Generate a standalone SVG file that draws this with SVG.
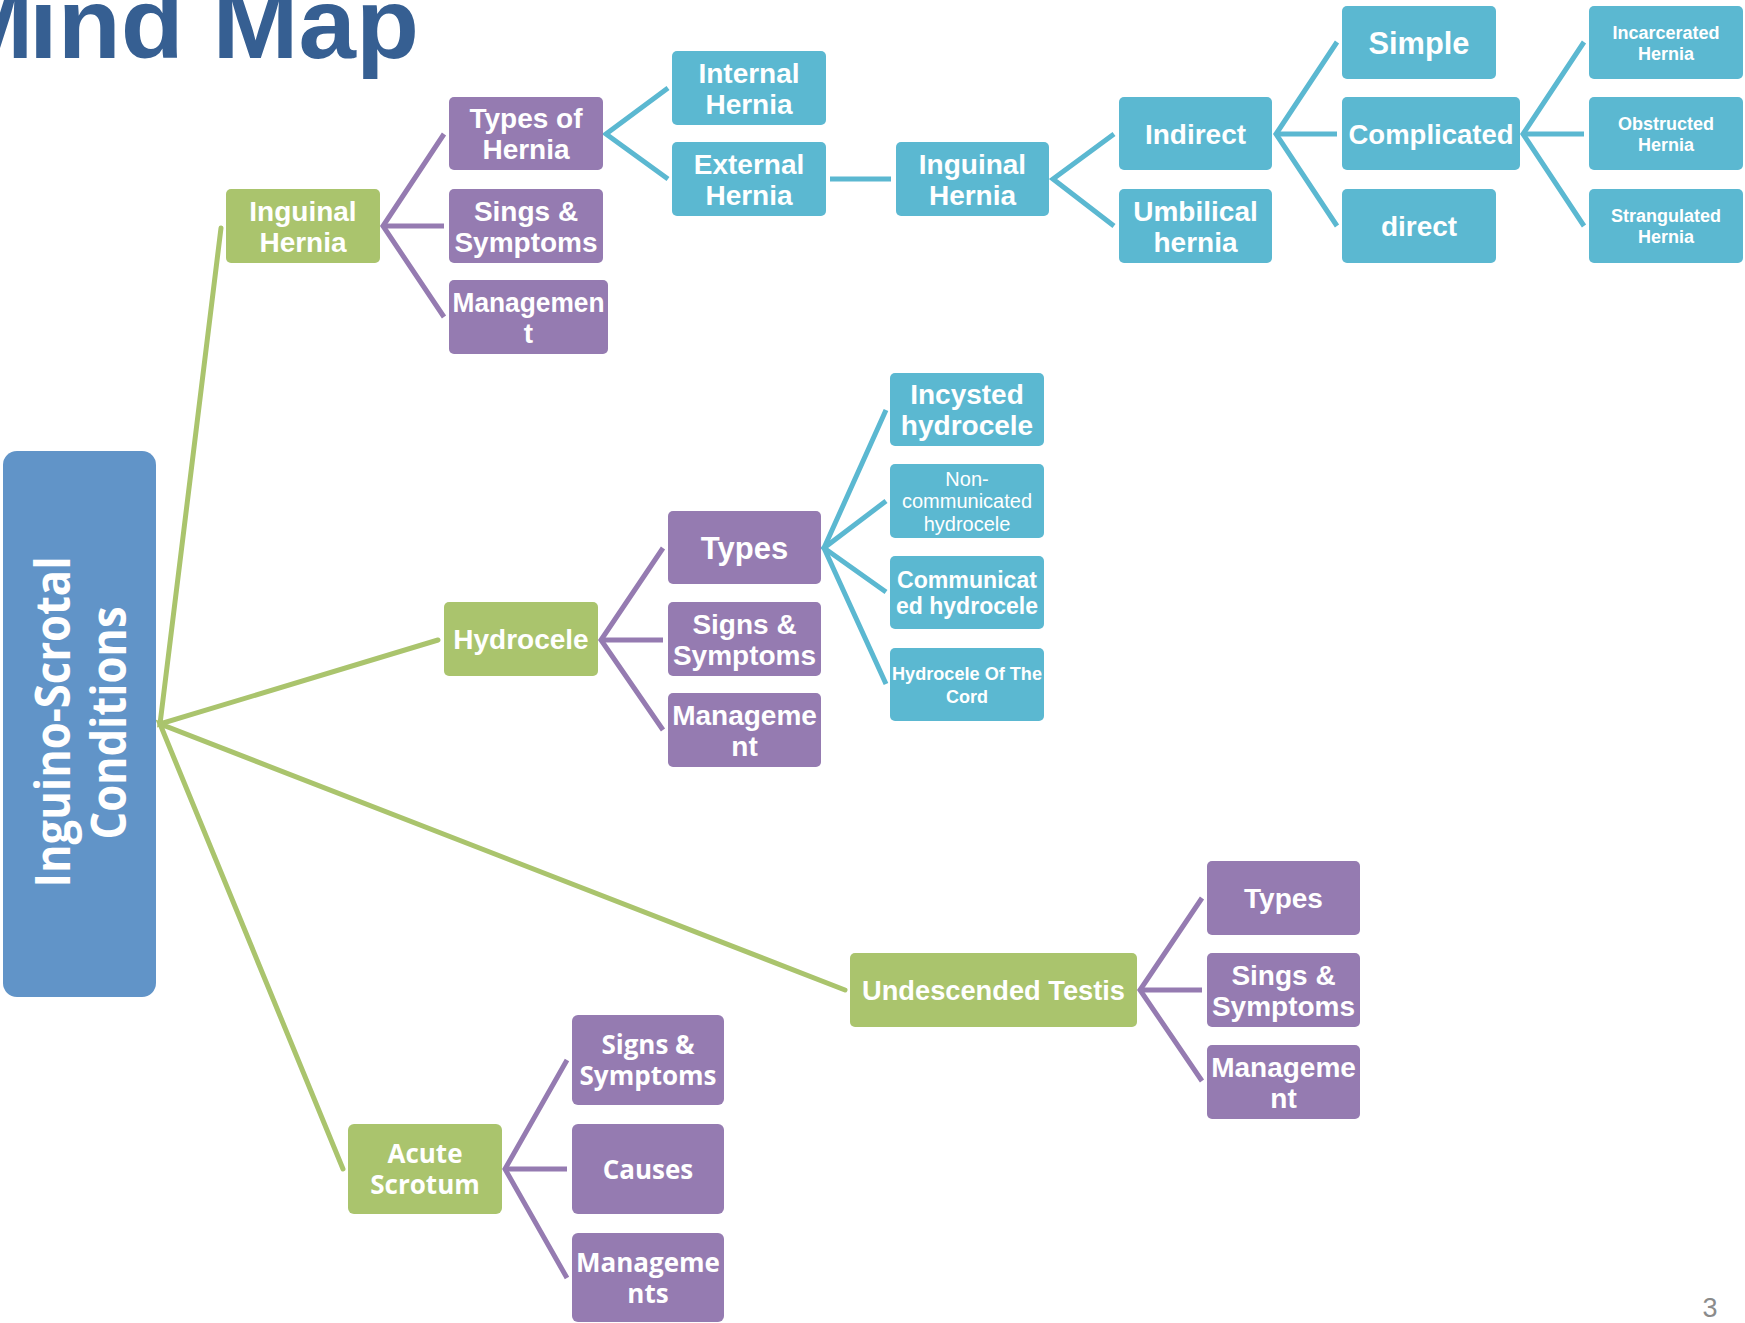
<svg xmlns="http://www.w3.org/2000/svg" width="1745" height="1323" viewBox="0 0 1745 1323">
<style>
.bg{fill:#ffffff}
.root{fill:#6194C8}
.g{fill:#AAC46D}
.p{fill:#957BB1}
.b{fill:#5BB8D1}
.t{font-family:"Liberation Sans",Arial,sans-serif;font-weight:bold;fill:#ffffff;text-anchor:middle}
.o{font-family:"Open Sans","Liberation Sans",sans-serif;font-weight:bold;fill:#ffffff;text-anchor:middle}
.f28{font-size:28px}
.f32{font-size:31px}
.f23{font-size:23px}
.f20{font-size:20px;font-weight:normal}
.f18{font-size:18px}
.f26{font-size:26px}
.lg{stroke:#AAC46D;stroke-width:5;fill:none;stroke-linecap:round}
.lp{stroke:#957BB1;stroke-width:5;fill:none}
.lb{stroke:#5BB8D1;stroke-width:5;fill:none}
</style>
<rect class="bg" x="0" y="0" width="1745" height="1323"/>
<text id="title" y="58" style="font-family:'Liberation Sans',Arial,sans-serif;font-weight:bold;font-size:100px;fill:#365F92"><tspan x="-50">M</tspan><tspan x="29" textLength="390" lengthAdjust="spacingAndGlyphs">ind Map</tspan></text>
<text id="page" x="1710" y="1317" style="font-family:'Liberation Sans',Arial,sans-serif;font-size:27px;fill:#8B8B8B;text-anchor:middle">3</text>

<g id="connectors">
  <polyline class="lg" points="221,228 160,724 438,640"/>
  <polyline class="lg" points="845,990 160,724 343,1169"/>
  <polyline class="lp" points="444,134 383,226 444,317"/>
  <line class="lp" x1="383" y1="226" x2="444" y2="226"/>
  <polyline class="lb" points="668,88 606,134 668,179"/>
  <line class="lb" x1="830" y1="179" x2="891" y2="179"/>
  <polyline class="lb" points="1114,134 1053,179 1114,226"/>
  <polyline class="lb" points="1337,42 1276,134 1337,226"/>
  <line class="lb" x1="1276" y1="134" x2="1337" y2="134"/>
  <polyline class="lb" points="1584,42 1523,134 1584,226"/>
  <line class="lb" x1="1523" y1="134" x2="1584" y2="134"/>
  <polyline class="lp" points="663,548 601,640 663,730"/>
  <line class="lp" x1="601" y1="640" x2="663" y2="640"/>
  <polyline class="lb" points="886,410 824,548 886,684"/>
  <polyline class="lb" points="886,501 824,548 886,592"/>
  <polyline class="lp" points="1202,898 1140,990 1202,1081"/>
  <line class="lp" x1="1140" y1="990" x2="1202" y2="990"/>
  <polyline class="lp" points="567,1060 505,1169 567,1278"/>
  <line class="lp" x1="505" y1="1169" x2="567" y2="1169"/>
</g>

<g id="n-root"><rect class="root" x="3" y="451" width="153" height="546" rx="14"/>
  <text class="o" transform="translate(70,722) rotate(-90)" style="font-size:48px" textLength="331" lengthAdjust="spacingAndGlyphs">Inguino-Scrotal</text>
  <text class="o" transform="translate(126,723) rotate(-90)" style="font-size:48px" textLength="233" lengthAdjust="spacingAndGlyphs">Conditions</text>
</g>

<g id="n-inguinal"><rect class="g" x="226" y="189" width="154" height="74" rx="5"/>
  <text class="t f28"><tspan x="303" y="220.5">Inguinal</tspan><tspan x="303" y="251.5">Hernia</tspan></text></g>
<g id="n-types-hernia"><rect class="p" x="449" y="97" width="154" height="73" rx="5"/>
  <text class="t f28"><tspan x="526" y="128">Types of</tspan><tspan x="526" y="159">Hernia</tspan></text></g>
<g id="n-ih-sings"><rect class="p" x="449" y="189" width="154" height="74" rx="5"/>
  <text class="t f28"><tspan x="526" y="220.5">Sings &amp;</tspan><tspan x="526" y="251.5">Symptoms</tspan></text></g>
<g id="n-ih-management"><rect class="p" x="449" y="280" width="159" height="74" rx="5"/>
  <text class="t f28"><tspan x="528.5" y="311.5" textLength="152" lengthAdjust="spacingAndGlyphs">Managemen</tspan><tspan x="528.5" y="342.5">t</tspan></text></g>
<g id="n-internal"><rect class="b" x="672" y="51" width="154" height="74" rx="5"/>
  <text class="t f28"><tspan x="749" y="82.5">Internal</tspan><tspan x="749" y="113.5">Hernia</tspan></text></g>
<g id="n-external"><rect class="b" x="672" y="142" width="154" height="74" rx="5"/>
  <text class="t f28"><tspan x="749" y="173.5">External</tspan><tspan x="749" y="204.5">Hernia</tspan></text></g>
<g id="n-inguinal-b"><rect class="b" x="896" y="142" width="153" height="74" rx="5"/>
  <text class="t f28"><tspan x="972.5" y="173.5">Inguinal</tspan><tspan x="972.5" y="204.5">Hernia</tspan></text></g>
<g id="n-indirect"><rect class="b" x="1119" y="97" width="153" height="73" rx="5"/>
  <text class="t f28" x="1195.5" y="143.5">Indirect</text></g>
<g id="n-umbilical"><rect class="b" x="1119" y="189" width="153" height="74" rx="5"/>
  <text class="t f28"><tspan x="1195.5" y="220.5">Umbilical</tspan><tspan x="1195.5" y="251.5">hernia</tspan></text></g>
<g id="n-simple"><rect class="b" x="1342" y="6" width="154" height="73" rx="5"/>
  <text class="t f32" x="1419" y="53.5" textLength="101" lengthAdjust="spacingAndGlyphs">Simple</text></g>
<g id="n-complicated"><rect class="b" x="1342" y="97" width="178" height="73" rx="5"/>
  <text class="t f28" x="1431" y="143.5" textLength="165" lengthAdjust="spacingAndGlyphs">Complicated</text></g>
<g id="n-direct"><rect class="b" x="1342" y="189" width="154" height="74" rx="5"/>
  <text class="t f28" x="1419" y="236">direct</text></g>
<g id="n-incarcerated"><rect class="b" x="1589" y="6" width="154" height="73" rx="5"/>
  <text class="t f18"><tspan x="1666" y="38.5">Incarcerated</tspan><tspan x="1666" y="59.5">Hernia</tspan></text></g>
<g id="n-obstructed"><rect class="b" x="1589" y="97" width="154" height="73" rx="5"/>
  <text class="t f18"><tspan x="1666" y="129.5">Obstructed</tspan><tspan x="1666" y="150.5">Hernia</tspan></text></g>
<g id="n-strangulated"><rect class="b" x="1589" y="189" width="154" height="74" rx="5"/>
  <text class="t f18"><tspan x="1666" y="222">Strangulated</tspan><tspan x="1666" y="243">Hernia</tspan></text></g>

<g id="n-hydrocele"><rect class="g" x="444" y="602" width="154" height="74" rx="5"/>
  <text class="t f28" x="521" y="649">Hydrocele</text></g>
<g id="n-hy-types"><rect class="p" x="668" y="511" width="153" height="73" rx="5"/>
  <text class="t f32" x="744.5" y="558.5">Types</text></g>
<g id="n-hy-signs"><rect class="p" x="668" y="602" width="153" height="74" rx="5"/>
  <text class="t f28"><tspan x="744.5" y="633.5">Signs &amp;</tspan><tspan x="744.5" y="664.5">Symptoms</tspan></text></g>
<g id="n-hy-management"><rect class="p" x="668" y="693" width="153" height="74" rx="5"/>
  <text class="t f28"><tspan x="744.5" y="724.5">Manageme</tspan><tspan x="744.5" y="755.5">nt</tspan></text></g>
<g id="n-incysted"><rect class="b" x="890" y="373" width="154" height="73" rx="5"/>
  <text class="t f28"><tspan x="967" y="404">Incysted</tspan><tspan x="967" y="435">hydrocele</tspan></text></g>
<g id="n-noncomm"><rect class="b" x="890" y="464" width="154" height="74" rx="5"/>
  <text class="t f20"><tspan x="967" y="485.5">Non-</tspan><tspan x="967" y="508">communicated</tspan><tspan x="967" y="530.5">hydrocele</tspan></text></g>
<g id="n-comm"><rect class="b" x="890" y="556" width="154" height="73" rx="5"/>
  <text class="t f23"><tspan x="967" y="587.5" textLength="140" lengthAdjust="spacingAndGlyphs">Communicat</tspan><tspan x="967" y="613.5" textLength="142" lengthAdjust="spacingAndGlyphs">ed hydrocele</tspan></text></g>
<g id="n-cord"><rect class="b" x="890" y="648" width="154" height="73" rx="5"/>
  <text class="t f18"><tspan x="967" y="679.5" textLength="150" lengthAdjust="spacingAndGlyphs">Hydrocele Of The</tspan><tspan x="967" y="702.5">Cord</tspan></text></g>

<g id="n-undescended"><rect class="g" x="850" y="953" width="287" height="74" rx="5"/>
  <text class="t" style="font-size:27px" x="993.5" y="1000" textLength="263" lengthAdjust="spacingAndGlyphs">Undescended Testis</text></g>
<g id="n-ut-types"><rect class="p" x="1207" y="861" width="153" height="74" rx="5"/>
  <text class="t f28" x="1283.5" y="908">Types</text></g>
<g id="n-ut-sings"><rect class="p" x="1207" y="953" width="153" height="74" rx="5"/>
  <text class="t f28"><tspan x="1283.5" y="984.5">Sings &amp;</tspan><tspan x="1283.5" y="1015.5">Symptoms</tspan></text></g>
<g id="n-ut-management"><rect class="p" x="1207" y="1045" width="153" height="74" rx="5"/>
  <text class="t f28"><tspan x="1283.5" y="1076.5">Manageme</tspan><tspan x="1283.5" y="1107.5">nt</tspan></text></g>

<g id="n-acute"><rect class="g" x="348" y="1124" width="154" height="90" rx="6"/>
  <text class="o f26"><tspan x="425" y="1163">Acute</tspan><tspan x="425" y="1194">Scrotum</tspan></text></g>
<g id="n-as-signs"><rect class="p" x="572" y="1015" width="152" height="90" rx="6"/>
  <text class="o f26"><tspan x="648" y="1054">Signs &amp;</tspan><tspan x="648" y="1085">Symptoms</tspan></text></g>
<g id="n-as-causes"><rect class="p" x="572" y="1124" width="152" height="90" rx="6"/>
  <text class="o f26" x="648" y="1178.5">Causes</text></g>
<g id="n-as-management"><rect class="p" x="572" y="1233" width="152" height="89" rx="6"/>
  <text class="o f26"><tspan x="648" y="1272">Manageme</tspan><tspan x="648" y="1303">nts</tspan></text></g>
</svg>
